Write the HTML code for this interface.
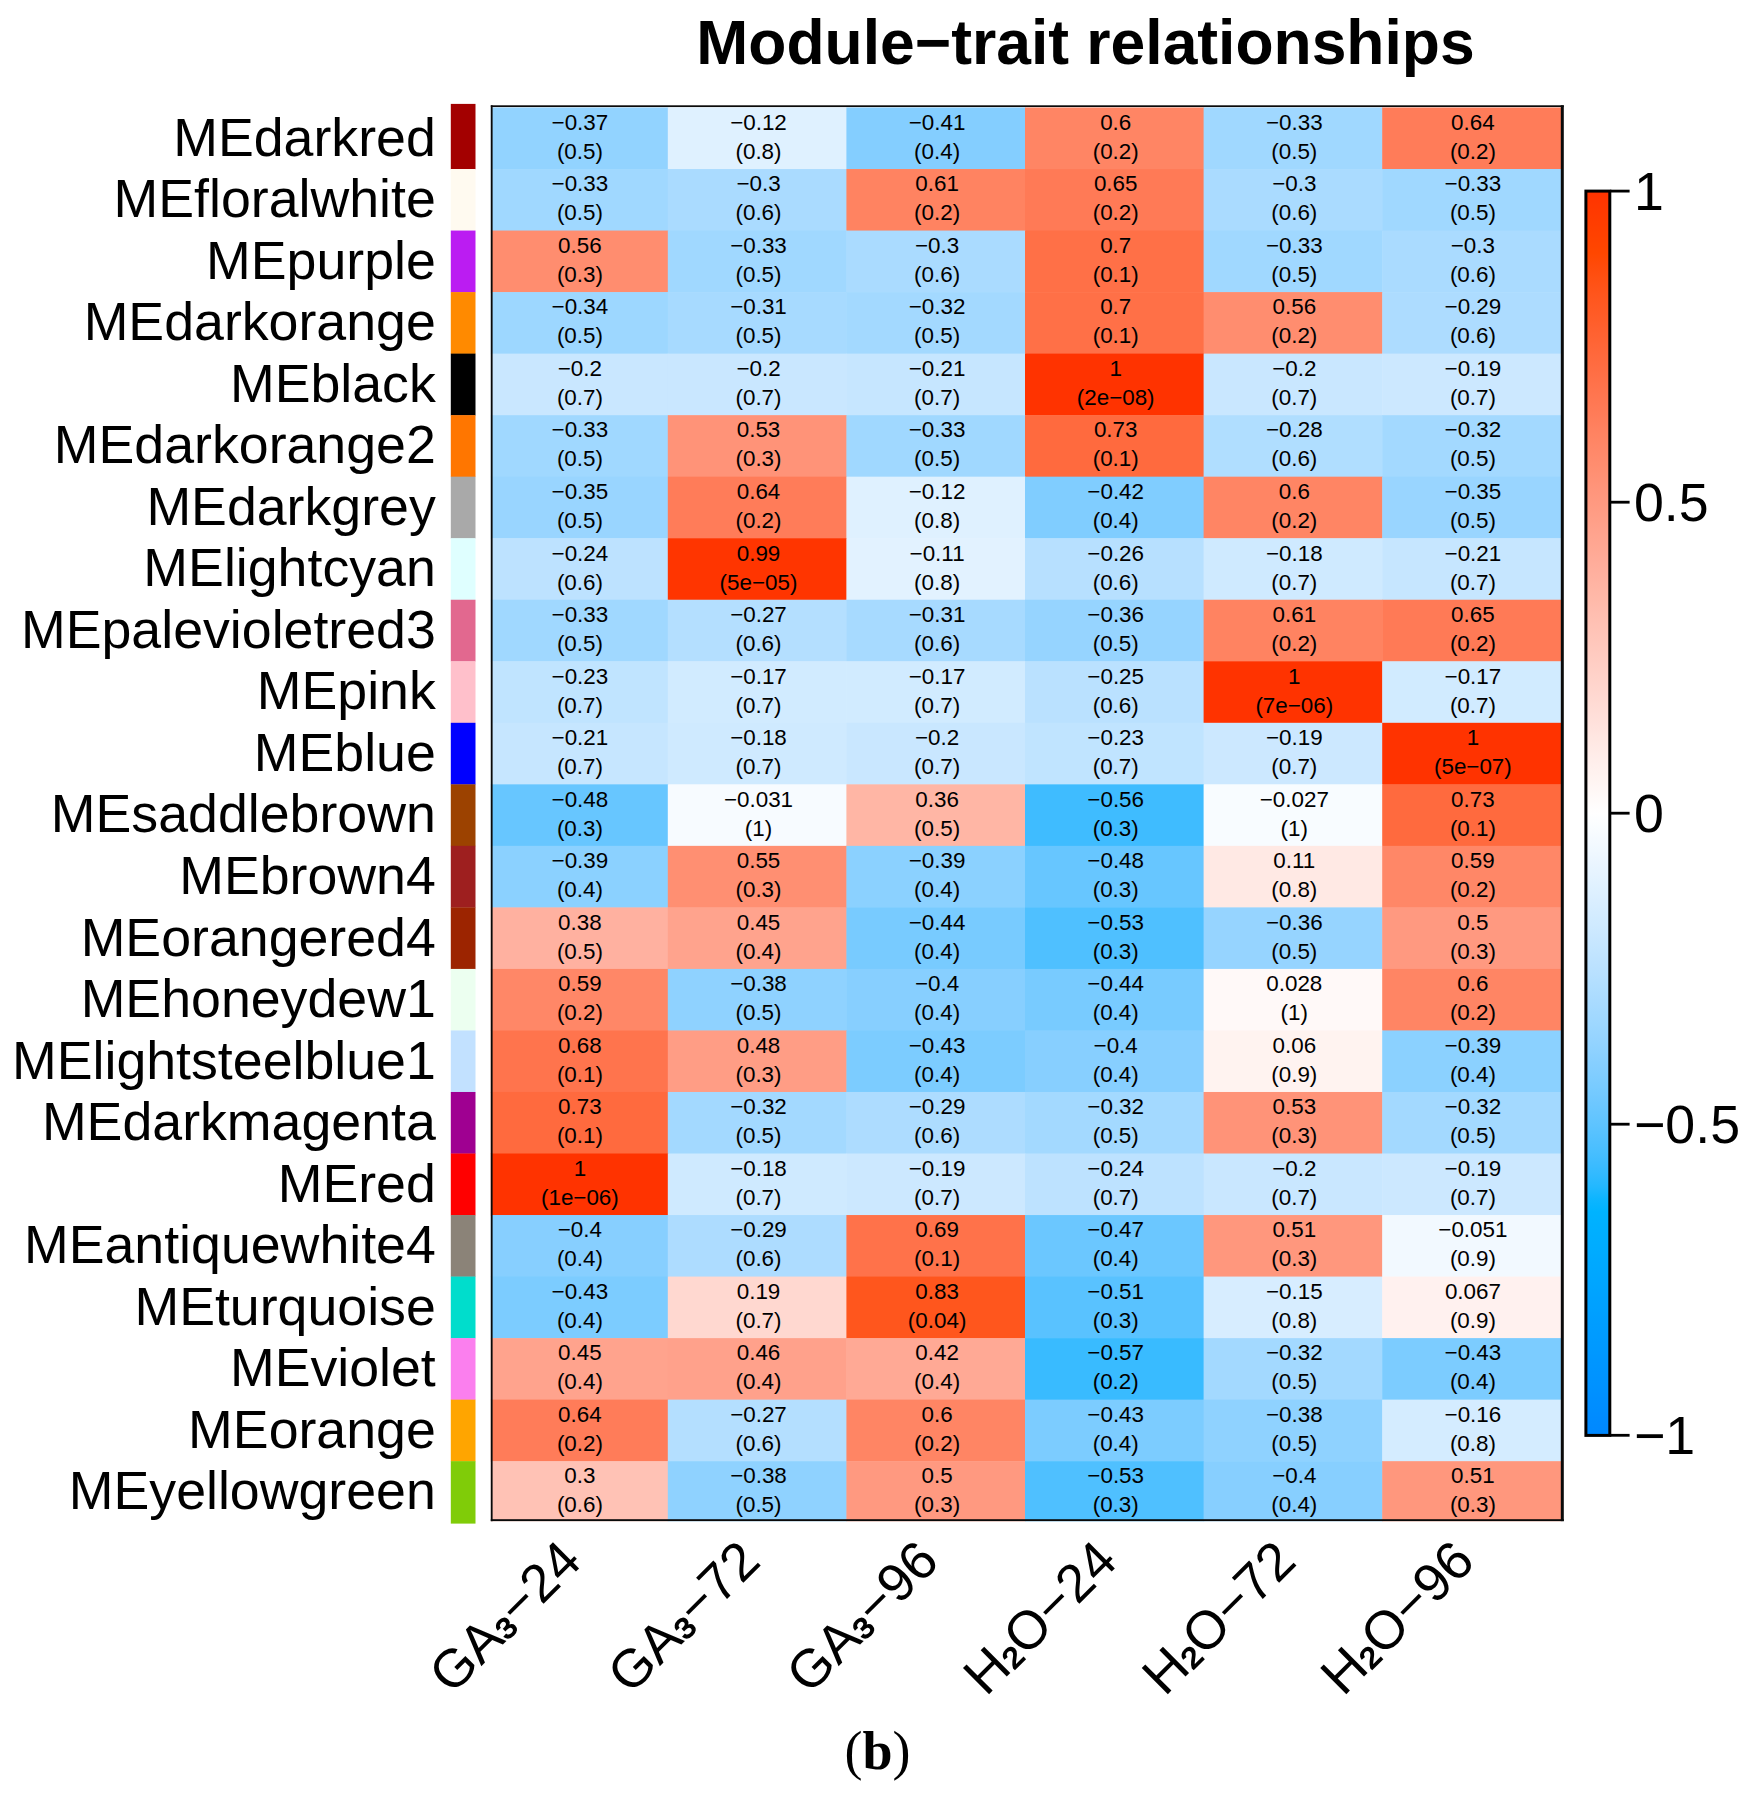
<!DOCTYPE html>
<html lang="en"><head><meta charset="utf-8"><title>Module-trait relationships</title>
<style>
html,body{margin:0;padding:0;background:#fff}
body{width:1759px;height:1797px;overflow:hidden}
svg{display:block}
text{font-family:"Liberation Sans",Arial,Helvetica,sans-serif;fill:#000}
.c{font-size:22.4px;text-anchor:middle}
.r{font-size:53.7px;text-anchor:end}
.x{font-size:53.7px;text-anchor:end}
.l{font-size:53.7px;text-anchor:start}
  .t{font-size:62.4px;font-weight:bold;text-anchor:middle}
.b{font-family:"Liberation Serif","DejaVu Serif",serif;font-size:54px;text-anchor:middle}
</style></head><body>
<svg width="1759" height="1797" viewBox="0 0 1759 1797">
<rect width="1759" height="1797" fill="#fff"/>
<defs><clipPath id="hm"><rect x="490.8" y="105.3" width="1073.0" height="1415.9"/></clipPath>
<linearGradient id="lg" x1="0" y1="0" x2="0" y2="1">
<stop offset="0.000" stop-color="#FF3300"/>
<stop offset="0.010" stop-color="#FF3700"/>
<stop offset="0.020" stop-color="#FF3B00"/>
<stop offset="0.030" stop-color="#FF3F00"/>
<stop offset="0.040" stop-color="#FF4300"/>
<stop offset="0.050" stop-color="#FF4700"/>
<stop offset="0.060" stop-color="#FF4B0A"/>
<stop offset="0.070" stop-color="#FF5012"/>
<stop offset="0.080" stop-color="#FF541A"/>
<stop offset="0.090" stop-color="#FF5821"/>
<stop offset="0.100" stop-color="#FF5C27"/>
<stop offset="0.110" stop-color="#FF602E"/>
<stop offset="0.120" stop-color="#FF6434"/>
<stop offset="0.130" stop-color="#FF683B"/>
<stop offset="0.140" stop-color="#FF6C41"/>
<stop offset="0.150" stop-color="#FF7047"/>
<stop offset="0.160" stop-color="#FF744D"/>
<stop offset="0.170" stop-color="#FF7853"/>
<stop offset="0.180" stop-color="#FF7C59"/>
<stop offset="0.190" stop-color="#FF815F"/>
<stop offset="0.200" stop-color="#FF8564"/>
<stop offset="0.210" stop-color="#FF896A"/>
<stop offset="0.220" stop-color="#FF8D6F"/>
<stop offset="0.230" stop-color="#FF9175"/>
<stop offset="0.240" stop-color="#FF957B"/>
<stop offset="0.250" stop-color="#FF9980"/>
<stop offset="0.260" stop-color="#FF9D85"/>
<stop offset="0.270" stop-color="#FFA18B"/>
<stop offset="0.280" stop-color="#FFA590"/>
<stop offset="0.290" stop-color="#FFA995"/>
<stop offset="0.300" stop-color="#FFAD9B"/>
<stop offset="0.310" stop-color="#FFB1A0"/>
<stop offset="0.320" stop-color="#FFB6A5"/>
<stop offset="0.330" stop-color="#FFBAAA"/>
<stop offset="0.340" stop-color="#FFBEB0"/>
<stop offset="0.350" stop-color="#FFC2B5"/>
<stop offset="0.360" stop-color="#FFC6BA"/>
<stop offset="0.370" stop-color="#FFCABF"/>
<stop offset="0.380" stop-color="#FFCEC4"/>
<stop offset="0.390" stop-color="#FFD2C9"/>
<stop offset="0.400" stop-color="#FFD6CE"/>
<stop offset="0.410" stop-color="#FFDAD3"/>
<stop offset="0.420" stop-color="#FFDED8"/>
<stop offset="0.430" stop-color="#FFE2DD"/>
<stop offset="0.440" stop-color="#FFE7E2"/>
<stop offset="0.450" stop-color="#FFEBE7"/>
<stop offset="0.460" stop-color="#FFEFEC"/>
<stop offset="0.470" stop-color="#FFF3F0"/>
<stop offset="0.480" stop-color="#FFF7F5"/>
<stop offset="0.490" stop-color="#FFFBFA"/>
<stop offset="0.500" stop-color="#FFFFFF"/>
<stop offset="0.510" stop-color="#FAFDFF"/>
<stop offset="0.520" stop-color="#F5FAFF"/>
<stop offset="0.530" stop-color="#F0F8FF"/>
<stop offset="0.540" stop-color="#EAF5FF"/>
<stop offset="0.550" stop-color="#E5F3FF"/>
<stop offset="0.560" stop-color="#DFF1FF"/>
<stop offset="0.570" stop-color="#DAEEFF"/>
<stop offset="0.580" stop-color="#D4ECFF"/>
<stop offset="0.590" stop-color="#CFEAFF"/>
<stop offset="0.600" stop-color="#C9E7FF"/>
<stop offset="0.610" stop-color="#C3E5FF"/>
<stop offset="0.620" stop-color="#BDE2FF"/>
<stop offset="0.630" stop-color="#B7E0FF"/>
<stop offset="0.640" stop-color="#B0DEFF"/>
<stop offset="0.650" stop-color="#AADBFF"/>
<stop offset="0.660" stop-color="#A3D9FF"/>
<stop offset="0.670" stop-color="#9DD7FF"/>
<stop offset="0.680" stop-color="#96D4FF"/>
<stop offset="0.690" stop-color="#8FD2FF"/>
<stop offset="0.700" stop-color="#87CFFF"/>
<stop offset="0.710" stop-color="#80CDFF"/>
<stop offset="0.720" stop-color="#78CBFF"/>
<stop offset="0.730" stop-color="#70C8FF"/>
<stop offset="0.740" stop-color="#67C6FF"/>
<stop offset="0.750" stop-color="#5EC4FF"/>
<stop offset="0.760" stop-color="#54C1FF"/>
<stop offset="0.770" stop-color="#4ABFFF"/>
<stop offset="0.780" stop-color="#3FBCFF"/>
<stop offset="0.790" stop-color="#32BAFF"/>
<stop offset="0.800" stop-color="#23B8FF"/>
<stop offset="0.810" stop-color="#0DB5FF"/>
<stop offset="0.820" stop-color="#00B3FF"/>
<stop offset="0.830" stop-color="#00B0FF"/>
<stop offset="0.840" stop-color="#00AEFF"/>
<stop offset="0.850" stop-color="#00ACFF"/>
<stop offset="0.860" stop-color="#00A9FF"/>
<stop offset="0.870" stop-color="#00A7FF"/>
<stop offset="0.880" stop-color="#00A5FF"/>
<stop offset="0.890" stop-color="#00A2FF"/>
<stop offset="0.900" stop-color="#00A0FF"/>
<stop offset="0.910" stop-color="#009DFF"/>
<stop offset="0.920" stop-color="#009BFF"/>
<stop offset="0.930" stop-color="#0099FF"/>
<stop offset="0.940" stop-color="#0096FF"/>
<stop offset="0.950" stop-color="#0094FF"/>
<stop offset="0.960" stop-color="#0092FF"/>
<stop offset="0.970" stop-color="#008FFF"/>
<stop offset="0.980" stop-color="#008DFF"/>
<stop offset="0.990" stop-color="#008AFF"/>
<stop offset="1.000" stop-color="#0088FF"/>
</linearGradient></defs>
<text class="t" x="1085.5" y="64.3">Module−trait relationships</text>
<g>
<rect x="450.8" y="103.90" width="24.70" height="65.43" fill="#A30000"/>
<rect x="450.8" y="169.03" width="24.70" height="61.83" fill="#FFFAF0"/>
<rect x="450.8" y="230.56" width="24.70" height="61.83" fill="#BB1CF2"/>
<rect x="450.8" y="292.09" width="24.70" height="61.83" fill="#FF8A00"/>
<rect x="450.8" y="353.62" width="24.70" height="61.83" fill="#000000"/>
<rect x="450.8" y="415.15" width="24.70" height="61.83" fill="#FF7600"/>
<rect x="450.8" y="476.68" width="24.70" height="61.83" fill="#A9A9A9"/>
<rect x="450.8" y="538.21" width="24.70" height="61.83" fill="#DFFFFF"/>
<rect x="450.8" y="599.74" width="24.70" height="61.83" fill="#E2688F"/>
<rect x="450.8" y="661.27" width="24.70" height="61.83" fill="#FFC0CB"/>
<rect x="450.8" y="722.80" width="24.70" height="61.83" fill="#0000FF"/>
<rect x="450.8" y="784.33" width="24.70" height="61.83" fill="#9C4200"/>
<rect x="450.8" y="845.86" width="24.70" height="61.83" fill="#9E1F1F"/>
<rect x="450.8" y="907.39" width="24.70" height="61.83" fill="#9C2400"/>
<rect x="450.8" y="968.92" width="24.70" height="61.83" fill="#ECFFF0"/>
<rect x="450.8" y="1030.45" width="24.70" height="61.83" fill="#C2E1FF"/>
<rect x="450.8" y="1091.98" width="24.70" height="61.83" fill="#9F0091"/>
<rect x="450.8" y="1153.51" width="24.70" height="61.83" fill="#FF0000"/>
<rect x="450.8" y="1215.04" width="24.70" height="61.83" fill="#8B8378"/>
<rect x="450.8" y="1276.57" width="24.70" height="61.83" fill="#00DDCC"/>
<rect x="450.8" y="1338.10" width="24.70" height="61.83" fill="#FB7FEE"/>
<rect x="450.8" y="1399.63" width="24.70" height="61.83" fill="#FFA500"/>
<rect x="450.8" y="1461.16" width="24.70" height="62.44" fill="#80CC08"/>
</g>
<g clip-path="url(#hm)">
<rect x="489.20" y="107.50" width="179.10" height="62.03" fill="#92D3FF"/>
<rect x="667.80" y="107.50" width="179.10" height="62.03" fill="#DFF1FF"/>
<rect x="846.40" y="107.50" width="179.10" height="62.03" fill="#84CEFF"/>
<rect x="1025.00" y="107.50" width="179.10" height="62.03" fill="#FF8564"/>
<rect x="1203.60" y="107.50" width="179.10" height="62.03" fill="#A0D8FF"/>
<rect x="1382.20" y="107.50" width="179.10" height="62.03" fill="#FF7C59"/>
<rect x="489.20" y="169.03" width="179.10" height="62.03" fill="#A0D8FF"/>
<rect x="667.80" y="169.03" width="179.10" height="62.03" fill="#AADBFF"/>
<rect x="846.40" y="169.03" width="179.10" height="62.03" fill="#FF8361"/>
<rect x="1025.00" y="169.03" width="179.10" height="62.03" fill="#FF7A56"/>
<rect x="1203.60" y="169.03" width="179.10" height="62.03" fill="#AADBFF"/>
<rect x="1382.20" y="169.03" width="179.10" height="62.03" fill="#A0D8FF"/>
<rect x="489.20" y="230.56" width="179.10" height="62.03" fill="#FF8D6F"/>
<rect x="667.80" y="230.56" width="179.10" height="62.03" fill="#A0D8FF"/>
<rect x="846.40" y="230.56" width="179.10" height="62.03" fill="#AADBFF"/>
<rect x="1025.00" y="230.56" width="179.10" height="62.03" fill="#FF7047"/>
<rect x="1203.60" y="230.56" width="179.10" height="62.03" fill="#A0D8FF"/>
<rect x="1382.20" y="230.56" width="179.10" height="62.03" fill="#AADBFF"/>
<rect x="489.20" y="292.09" width="179.10" height="62.03" fill="#9DD7FF"/>
<rect x="667.80" y="292.09" width="179.10" height="62.03" fill="#A7DAFF"/>
<rect x="846.40" y="292.09" width="179.10" height="62.03" fill="#A3D9FF"/>
<rect x="1025.00" y="292.09" width="179.10" height="62.03" fill="#FF7047"/>
<rect x="1203.60" y="292.09" width="179.10" height="62.03" fill="#FF8D6F"/>
<rect x="1382.20" y="292.09" width="179.10" height="62.03" fill="#ADDCFF"/>
<rect x="489.20" y="353.62" width="179.10" height="62.03" fill="#C9E7FF"/>
<rect x="667.80" y="353.62" width="179.10" height="62.03" fill="#C9E7FF"/>
<rect x="846.40" y="353.62" width="179.10" height="62.03" fill="#C6E6FF"/>
<rect x="1025.00" y="353.62" width="179.10" height="62.03" fill="#FF3300"/>
<rect x="1203.60" y="353.62" width="179.10" height="62.03" fill="#C9E7FF"/>
<rect x="1382.20" y="353.62" width="179.10" height="62.03" fill="#CCE8FF"/>
<rect x="489.20" y="415.15" width="179.10" height="62.03" fill="#A0D8FF"/>
<rect x="667.80" y="415.15" width="179.10" height="62.03" fill="#FF9378"/>
<rect x="846.40" y="415.15" width="179.10" height="62.03" fill="#A0D8FF"/>
<rect x="1025.00" y="415.15" width="179.10" height="62.03" fill="#FF6A3E"/>
<rect x="1203.60" y="415.15" width="179.10" height="62.03" fill="#B0DEFF"/>
<rect x="1382.20" y="415.15" width="179.10" height="62.03" fill="#A3D9FF"/>
<rect x="489.20" y="476.68" width="179.10" height="62.03" fill="#99D5FF"/>
<rect x="667.80" y="476.68" width="179.10" height="62.03" fill="#FF7C59"/>
<rect x="846.40" y="476.68" width="179.10" height="62.03" fill="#DFF1FF"/>
<rect x="1025.00" y="476.68" width="179.10" height="62.03" fill="#80CDFF"/>
<rect x="1203.60" y="476.68" width="179.10" height="62.03" fill="#FF8564"/>
<rect x="1382.20" y="476.68" width="179.10" height="62.03" fill="#99D5FF"/>
<rect x="489.20" y="538.21" width="179.10" height="62.03" fill="#BDE2FF"/>
<rect x="667.80" y="538.21" width="179.10" height="62.03" fill="#FF3500"/>
<rect x="846.40" y="538.21" width="179.10" height="62.03" fill="#E2F2FF"/>
<rect x="1025.00" y="538.21" width="179.10" height="62.03" fill="#B7E0FF"/>
<rect x="1203.60" y="538.21" width="179.10" height="62.03" fill="#CFEAFF"/>
<rect x="1382.20" y="538.21" width="179.10" height="62.03" fill="#C6E6FF"/>
<rect x="489.20" y="599.74" width="179.10" height="62.03" fill="#A0D8FF"/>
<rect x="667.80" y="599.74" width="179.10" height="62.03" fill="#B4DFFF"/>
<rect x="846.40" y="599.74" width="179.10" height="62.03" fill="#A7DAFF"/>
<rect x="1025.00" y="599.74" width="179.10" height="62.03" fill="#96D4FF"/>
<rect x="1203.60" y="599.74" width="179.10" height="62.03" fill="#FF8361"/>
<rect x="1382.20" y="599.74" width="179.10" height="62.03" fill="#FF7A56"/>
<rect x="489.20" y="661.27" width="179.10" height="62.03" fill="#C0E4FF"/>
<rect x="667.80" y="661.27" width="179.10" height="62.03" fill="#D1EBFF"/>
<rect x="846.40" y="661.27" width="179.10" height="62.03" fill="#D1EBFF"/>
<rect x="1025.00" y="661.27" width="179.10" height="62.03" fill="#BAE1FF"/>
<rect x="1203.60" y="661.27" width="179.10" height="62.03" fill="#FF3300"/>
<rect x="1382.20" y="661.27" width="179.10" height="62.03" fill="#D1EBFF"/>
<rect x="489.20" y="722.80" width="179.10" height="62.03" fill="#C6E6FF"/>
<rect x="667.80" y="722.80" width="179.10" height="62.03" fill="#CFEAFF"/>
<rect x="846.40" y="722.80" width="179.10" height="62.03" fill="#C9E7FF"/>
<rect x="1025.00" y="722.80" width="179.10" height="62.03" fill="#C0E4FF"/>
<rect x="1203.60" y="722.80" width="179.10" height="62.03" fill="#CCE8FF"/>
<rect x="1382.20" y="722.80" width="179.10" height="62.03" fill="#FF3300"/>
<rect x="489.20" y="784.33" width="179.10" height="62.03" fill="#67C6FF"/>
<rect x="667.80" y="784.33" width="179.10" height="62.03" fill="#F7FBFF"/>
<rect x="846.40" y="784.33" width="179.10" height="62.03" fill="#FFB6A5"/>
<rect x="1025.00" y="784.33" width="179.10" height="62.03" fill="#3FBCFF"/>
<rect x="1203.60" y="784.33" width="179.10" height="62.03" fill="#F8FCFF"/>
<rect x="1382.20" y="784.33" width="179.10" height="62.03" fill="#FF6A3E"/>
<rect x="489.20" y="845.86" width="179.10" height="62.03" fill="#8BD1FF"/>
<rect x="667.80" y="845.86" width="179.10" height="62.03" fill="#FF8F72"/>
<rect x="846.40" y="845.86" width="179.10" height="62.03" fill="#8BD1FF"/>
<rect x="1025.00" y="845.86" width="179.10" height="62.03" fill="#67C6FF"/>
<rect x="1203.60" y="845.86" width="179.10" height="62.03" fill="#FFE9E4"/>
<rect x="1382.20" y="845.86" width="179.10" height="62.03" fill="#FF8767"/>
<rect x="489.20" y="907.39" width="179.10" height="62.03" fill="#FFB1A0"/>
<rect x="667.80" y="907.39" width="179.10" height="62.03" fill="#FFA38D"/>
<rect x="846.40" y="907.39" width="179.10" height="62.03" fill="#78CBFF"/>
<rect x="1025.00" y="907.39" width="179.10" height="62.03" fill="#4FC0FF"/>
<rect x="1203.60" y="907.39" width="179.10" height="62.03" fill="#96D4FF"/>
<rect x="1382.20" y="907.39" width="179.10" height="62.03" fill="#FF9980"/>
<rect x="489.20" y="968.92" width="179.10" height="62.03" fill="#FF8767"/>
<rect x="667.80" y="968.92" width="179.10" height="62.03" fill="#8FD2FF"/>
<rect x="846.40" y="968.92" width="179.10" height="62.03" fill="#87CFFF"/>
<rect x="1025.00" y="968.92" width="179.10" height="62.03" fill="#78CBFF"/>
<rect x="1203.60" y="968.92" width="179.10" height="62.03" fill="#FFF9F8"/>
<rect x="1382.20" y="968.92" width="179.10" height="62.03" fill="#FF8564"/>
<rect x="489.20" y="1030.45" width="179.10" height="62.03" fill="#FF744D"/>
<rect x="667.80" y="1030.45" width="179.10" height="62.03" fill="#FF9D85"/>
<rect x="846.40" y="1030.45" width="179.10" height="62.03" fill="#7CCCFF"/>
<rect x="1025.00" y="1030.45" width="179.10" height="62.03" fill="#87CFFF"/>
<rect x="1203.60" y="1030.45" width="179.10" height="62.03" fill="#FFF3F0"/>
<rect x="1382.20" y="1030.45" width="179.10" height="62.03" fill="#8BD1FF"/>
<rect x="489.20" y="1091.98" width="179.10" height="62.03" fill="#FF6A3E"/>
<rect x="667.80" y="1091.98" width="179.10" height="62.03" fill="#A3D9FF"/>
<rect x="846.40" y="1091.98" width="179.10" height="62.03" fill="#ADDCFF"/>
<rect x="1025.00" y="1091.98" width="179.10" height="62.03" fill="#A3D9FF"/>
<rect x="1203.60" y="1091.98" width="179.10" height="62.03" fill="#FF9378"/>
<rect x="1382.20" y="1091.98" width="179.10" height="62.03" fill="#A3D9FF"/>
<rect x="489.20" y="1153.51" width="179.10" height="62.03" fill="#FF3300"/>
<rect x="667.80" y="1153.51" width="179.10" height="62.03" fill="#CFEAFF"/>
<rect x="846.40" y="1153.51" width="179.10" height="62.03" fill="#CCE8FF"/>
<rect x="1025.00" y="1153.51" width="179.10" height="62.03" fill="#BDE2FF"/>
<rect x="1203.60" y="1153.51" width="179.10" height="62.03" fill="#C9E7FF"/>
<rect x="1382.20" y="1153.51" width="179.10" height="62.03" fill="#CCE8FF"/>
<rect x="489.20" y="1215.04" width="179.10" height="62.03" fill="#87CFFF"/>
<rect x="667.80" y="1215.04" width="179.10" height="62.03" fill="#ADDCFF"/>
<rect x="846.40" y="1215.04" width="179.10" height="62.03" fill="#FF724A"/>
<rect x="1025.00" y="1215.04" width="179.10" height="62.03" fill="#6BC7FF"/>
<rect x="1203.60" y="1215.04" width="179.10" height="62.03" fill="#FF977D"/>
<rect x="1382.20" y="1215.04" width="179.10" height="62.03" fill="#F2F9FF"/>
<rect x="489.20" y="1276.57" width="179.10" height="62.03" fill="#7CCCFF"/>
<rect x="667.80" y="1276.57" width="179.10" height="62.03" fill="#FFD8D0"/>
<rect x="846.40" y="1276.57" width="179.10" height="62.03" fill="#FF561D"/>
<rect x="1025.00" y="1276.57" width="179.10" height="62.03" fill="#59C2FF"/>
<rect x="1203.60" y="1276.57" width="179.10" height="62.03" fill="#D7EDFF"/>
<rect x="1382.20" y="1276.57" width="179.10" height="62.03" fill="#FFF1EF"/>
<rect x="489.20" y="1338.10" width="179.10" height="62.03" fill="#FFA38D"/>
<rect x="667.80" y="1338.10" width="179.10" height="62.03" fill="#FFA18B"/>
<rect x="846.40" y="1338.10" width="179.10" height="62.03" fill="#FFA995"/>
<rect x="1025.00" y="1338.10" width="179.10" height="62.03" fill="#39BBFF"/>
<rect x="1203.60" y="1338.10" width="179.10" height="62.03" fill="#A3D9FF"/>
<rect x="1382.20" y="1338.10" width="179.10" height="62.03" fill="#7CCCFF"/>
<rect x="489.20" y="1399.63" width="179.10" height="62.03" fill="#FF7C59"/>
<rect x="667.80" y="1399.63" width="179.10" height="62.03" fill="#B4DFFF"/>
<rect x="846.40" y="1399.63" width="179.10" height="62.03" fill="#FF8564"/>
<rect x="1025.00" y="1399.63" width="179.10" height="62.03" fill="#7CCCFF"/>
<rect x="1203.60" y="1399.63" width="179.10" height="62.03" fill="#8FD2FF"/>
<rect x="1382.20" y="1399.63" width="179.10" height="62.03" fill="#D4ECFF"/>
<rect x="489.20" y="1461.16" width="179.10" height="62.03" fill="#FFC2B5"/>
<rect x="667.80" y="1461.16" width="179.10" height="62.03" fill="#8FD2FF"/>
<rect x="846.40" y="1461.16" width="179.10" height="62.03" fill="#FF9980"/>
<rect x="1025.00" y="1461.16" width="179.10" height="62.03" fill="#4FC0FF"/>
<rect x="1203.60" y="1461.16" width="179.10" height="62.03" fill="#87CFFF"/>
<rect x="1382.20" y="1461.16" width="179.10" height="62.03" fill="#FF977D"/>
</g>
<g fill="#0a0a0a"><rect x="490.8" y="105.3" width="1.8" height="1415.9"/><rect x="490.8" y="105.3" width="1073" height="1.75"/><rect x="1560.8" y="105.3" width="3" height="1415.9"/><rect x="490.8" y="1519.2" width="1073" height="1.9"/></g>
<g class="c">
<text x="579.9" y="129.8">−0.37</text><text x="579.9" y="158.8">(0.5)</text>
<text x="758.5" y="129.8">−0.12</text><text x="758.5" y="158.8">(0.8)</text>
<text x="937.1" y="129.8">−0.41</text><text x="937.1" y="158.8">(0.4)</text>
<text x="1115.7" y="129.8">0.6</text><text x="1115.7" y="158.8">(0.2)</text>
<text x="1294.3" y="129.8">−0.33</text><text x="1294.3" y="158.8">(0.5)</text>
<text x="1472.9" y="129.8">0.64</text><text x="1472.9" y="158.8">(0.2)</text>
<text x="579.9" y="191.3">−0.33</text><text x="579.9" y="220.3">(0.5)</text>
<text x="758.5" y="191.3">−0.3</text><text x="758.5" y="220.3">(0.6)</text>
<text x="937.1" y="191.3">0.61</text><text x="937.1" y="220.3">(0.2)</text>
<text x="1115.7" y="191.3">0.65</text><text x="1115.7" y="220.3">(0.2)</text>
<text x="1294.3" y="191.3">−0.3</text><text x="1294.3" y="220.3">(0.6)</text>
<text x="1472.9" y="191.3">−0.33</text><text x="1472.9" y="220.3">(0.5)</text>
<text x="579.9" y="252.8">0.56</text><text x="579.9" y="281.8">(0.3)</text>
<text x="758.5" y="252.8">−0.33</text><text x="758.5" y="281.8">(0.5)</text>
<text x="937.1" y="252.8">−0.3</text><text x="937.1" y="281.8">(0.6)</text>
<text x="1115.7" y="252.8">0.7</text><text x="1115.7" y="281.8">(0.1)</text>
<text x="1294.3" y="252.8">−0.33</text><text x="1294.3" y="281.8">(0.5)</text>
<text x="1472.9" y="252.8">−0.3</text><text x="1472.9" y="281.8">(0.6)</text>
<text x="579.9" y="314.4">−0.34</text><text x="579.9" y="343.4">(0.5)</text>
<text x="758.5" y="314.4">−0.31</text><text x="758.5" y="343.4">(0.5)</text>
<text x="937.1" y="314.4">−0.32</text><text x="937.1" y="343.4">(0.5)</text>
<text x="1115.7" y="314.4">0.7</text><text x="1115.7" y="343.4">(0.1)</text>
<text x="1294.3" y="314.4">0.56</text><text x="1294.3" y="343.4">(0.2)</text>
<text x="1472.9" y="314.4">−0.29</text><text x="1472.9" y="343.4">(0.6)</text>
<text x="579.9" y="375.9">−0.2</text><text x="579.9" y="404.9">(0.7)</text>
<text x="758.5" y="375.9">−0.2</text><text x="758.5" y="404.9">(0.7)</text>
<text x="937.1" y="375.9">−0.21</text><text x="937.1" y="404.9">(0.7)</text>
<text x="1115.7" y="375.9">1</text><text x="1115.7" y="404.9">(2e−08)</text>
<text x="1294.3" y="375.9">−0.2</text><text x="1294.3" y="404.9">(0.7)</text>
<text x="1472.9" y="375.9">−0.19</text><text x="1472.9" y="404.9">(0.7)</text>
<text x="579.9" y="437.4">−0.33</text><text x="579.9" y="466.4">(0.5)</text>
<text x="758.5" y="437.4">0.53</text><text x="758.5" y="466.4">(0.3)</text>
<text x="937.1" y="437.4">−0.33</text><text x="937.1" y="466.4">(0.5)</text>
<text x="1115.7" y="437.4">0.73</text><text x="1115.7" y="466.4">(0.1)</text>
<text x="1294.3" y="437.4">−0.28</text><text x="1294.3" y="466.4">(0.6)</text>
<text x="1472.9" y="437.4">−0.32</text><text x="1472.9" y="466.4">(0.5)</text>
<text x="579.9" y="498.9">−0.35</text><text x="579.9" y="527.9">(0.5)</text>
<text x="758.5" y="498.9">0.64</text><text x="758.5" y="527.9">(0.2)</text>
<text x="937.1" y="498.9">−0.12</text><text x="937.1" y="527.9">(0.8)</text>
<text x="1115.7" y="498.9">−0.42</text><text x="1115.7" y="527.9">(0.4)</text>
<text x="1294.3" y="498.9">0.6</text><text x="1294.3" y="527.9">(0.2)</text>
<text x="1472.9" y="498.9">−0.35</text><text x="1472.9" y="527.9">(0.5)</text>
<text x="579.9" y="560.5">−0.24</text><text x="579.9" y="589.5">(0.6)</text>
<text x="758.5" y="560.5">0.99</text><text x="758.5" y="589.5">(5e−05)</text>
<text x="937.1" y="560.5">−0.11</text><text x="937.1" y="589.5">(0.8)</text>
<text x="1115.7" y="560.5">−0.26</text><text x="1115.7" y="589.5">(0.6)</text>
<text x="1294.3" y="560.5">−0.18</text><text x="1294.3" y="589.5">(0.7)</text>
<text x="1472.9" y="560.5">−0.21</text><text x="1472.9" y="589.5">(0.7)</text>
<text x="579.9" y="622.0">−0.33</text><text x="579.9" y="651.0">(0.5)</text>
<text x="758.5" y="622.0">−0.27</text><text x="758.5" y="651.0">(0.6)</text>
<text x="937.1" y="622.0">−0.31</text><text x="937.1" y="651.0">(0.6)</text>
<text x="1115.7" y="622.0">−0.36</text><text x="1115.7" y="651.0">(0.5)</text>
<text x="1294.3" y="622.0">0.61</text><text x="1294.3" y="651.0">(0.2)</text>
<text x="1472.9" y="622.0">0.65</text><text x="1472.9" y="651.0">(0.2)</text>
<text x="579.9" y="683.5">−0.23</text><text x="579.9" y="712.5">(0.7)</text>
<text x="758.5" y="683.5">−0.17</text><text x="758.5" y="712.5">(0.7)</text>
<text x="937.1" y="683.5">−0.17</text><text x="937.1" y="712.5">(0.7)</text>
<text x="1115.7" y="683.5">−0.25</text><text x="1115.7" y="712.5">(0.6)</text>
<text x="1294.3" y="683.5">1</text><text x="1294.3" y="712.5">(7e−06)</text>
<text x="1472.9" y="683.5">−0.17</text><text x="1472.9" y="712.5">(0.7)</text>
<text x="579.9" y="745.1">−0.21</text><text x="579.9" y="774.1">(0.7)</text>
<text x="758.5" y="745.1">−0.18</text><text x="758.5" y="774.1">(0.7)</text>
<text x="937.1" y="745.1">−0.2</text><text x="937.1" y="774.1">(0.7)</text>
<text x="1115.7" y="745.1">−0.23</text><text x="1115.7" y="774.1">(0.7)</text>
<text x="1294.3" y="745.1">−0.19</text><text x="1294.3" y="774.1">(0.7)</text>
<text x="1472.9" y="745.1">1</text><text x="1472.9" y="774.1">(5e−07)</text>
<text x="579.9" y="806.6">−0.48</text><text x="579.9" y="835.6">(0.3)</text>
<text x="758.5" y="806.6">−0.031</text><text x="758.5" y="835.6">(1)</text>
<text x="937.1" y="806.6">0.36</text><text x="937.1" y="835.6">(0.5)</text>
<text x="1115.7" y="806.6">−0.56</text><text x="1115.7" y="835.6">(0.3)</text>
<text x="1294.3" y="806.6">−0.027</text><text x="1294.3" y="835.6">(1)</text>
<text x="1472.9" y="806.6">0.73</text><text x="1472.9" y="835.6">(0.1)</text>
<text x="579.9" y="868.1">−0.39</text><text x="579.9" y="897.1">(0.4)</text>
<text x="758.5" y="868.1">0.55</text><text x="758.5" y="897.1">(0.3)</text>
<text x="937.1" y="868.1">−0.39</text><text x="937.1" y="897.1">(0.4)</text>
<text x="1115.7" y="868.1">−0.48</text><text x="1115.7" y="897.1">(0.3)</text>
<text x="1294.3" y="868.1">0.11</text><text x="1294.3" y="897.1">(0.8)</text>
<text x="1472.9" y="868.1">0.59</text><text x="1472.9" y="897.1">(0.2)</text>
<text x="579.9" y="929.7">0.38</text><text x="579.9" y="958.7">(0.5)</text>
<text x="758.5" y="929.7">0.45</text><text x="758.5" y="958.7">(0.4)</text>
<text x="937.1" y="929.7">−0.44</text><text x="937.1" y="958.7">(0.4)</text>
<text x="1115.7" y="929.7">−0.53</text><text x="1115.7" y="958.7">(0.3)</text>
<text x="1294.3" y="929.7">−0.36</text><text x="1294.3" y="958.7">(0.5)</text>
<text x="1472.9" y="929.7">0.5</text><text x="1472.9" y="958.7">(0.3)</text>
<text x="579.9" y="991.2">0.59</text><text x="579.9" y="1020.2">(0.2)</text>
<text x="758.5" y="991.2">−0.38</text><text x="758.5" y="1020.2">(0.5)</text>
<text x="937.1" y="991.2">−0.4</text><text x="937.1" y="1020.2">(0.4)</text>
<text x="1115.7" y="991.2">−0.44</text><text x="1115.7" y="1020.2">(0.4)</text>
<text x="1294.3" y="991.2">0.028</text><text x="1294.3" y="1020.2">(1)</text>
<text x="1472.9" y="991.2">0.6</text><text x="1472.9" y="1020.2">(0.2)</text>
<text x="579.9" y="1052.7">0.68</text><text x="579.9" y="1081.7">(0.1)</text>
<text x="758.5" y="1052.7">0.48</text><text x="758.5" y="1081.7">(0.3)</text>
<text x="937.1" y="1052.7">−0.43</text><text x="937.1" y="1081.7">(0.4)</text>
<text x="1115.7" y="1052.7">−0.4</text><text x="1115.7" y="1081.7">(0.4)</text>
<text x="1294.3" y="1052.7">0.06</text><text x="1294.3" y="1081.7">(0.9)</text>
<text x="1472.9" y="1052.7">−0.39</text><text x="1472.9" y="1081.7">(0.4)</text>
<text x="579.9" y="1114.2">0.73</text><text x="579.9" y="1143.2">(0.1)</text>
<text x="758.5" y="1114.2">−0.32</text><text x="758.5" y="1143.2">(0.5)</text>
<text x="937.1" y="1114.2">−0.29</text><text x="937.1" y="1143.2">(0.6)</text>
<text x="1115.7" y="1114.2">−0.32</text><text x="1115.7" y="1143.2">(0.5)</text>
<text x="1294.3" y="1114.2">0.53</text><text x="1294.3" y="1143.2">(0.3)</text>
<text x="1472.9" y="1114.2">−0.32</text><text x="1472.9" y="1143.2">(0.5)</text>
<text x="579.9" y="1175.8">1</text><text x="579.9" y="1204.8">(1e−06)</text>
<text x="758.5" y="1175.8">−0.18</text><text x="758.5" y="1204.8">(0.7)</text>
<text x="937.1" y="1175.8">−0.19</text><text x="937.1" y="1204.8">(0.7)</text>
<text x="1115.7" y="1175.8">−0.24</text><text x="1115.7" y="1204.8">(0.7)</text>
<text x="1294.3" y="1175.8">−0.2</text><text x="1294.3" y="1204.8">(0.7)</text>
<text x="1472.9" y="1175.8">−0.19</text><text x="1472.9" y="1204.8">(0.7)</text>
<text x="579.9" y="1237.3">−0.4</text><text x="579.9" y="1266.3">(0.4)</text>
<text x="758.5" y="1237.3">−0.29</text><text x="758.5" y="1266.3">(0.6)</text>
<text x="937.1" y="1237.3">0.69</text><text x="937.1" y="1266.3">(0.1)</text>
<text x="1115.7" y="1237.3">−0.47</text><text x="1115.7" y="1266.3">(0.4)</text>
<text x="1294.3" y="1237.3">0.51</text><text x="1294.3" y="1266.3">(0.3)</text>
<text x="1472.9" y="1237.3">−0.051</text><text x="1472.9" y="1266.3">(0.9)</text>
<text x="579.9" y="1298.8">−0.43</text><text x="579.9" y="1327.8">(0.4)</text>
<text x="758.5" y="1298.8">0.19</text><text x="758.5" y="1327.8">(0.7)</text>
<text x="937.1" y="1298.8">0.83</text><text x="937.1" y="1327.8">(0.04)</text>
<text x="1115.7" y="1298.8">−0.51</text><text x="1115.7" y="1327.8">(0.3)</text>
<text x="1294.3" y="1298.8">−0.15</text><text x="1294.3" y="1327.8">(0.8)</text>
<text x="1472.9" y="1298.8">0.067</text><text x="1472.9" y="1327.8">(0.9)</text>
<text x="579.9" y="1360.4">0.45</text><text x="579.9" y="1389.4">(0.4)</text>
<text x="758.5" y="1360.4">0.46</text><text x="758.5" y="1389.4">(0.4)</text>
<text x="937.1" y="1360.4">0.42</text><text x="937.1" y="1389.4">(0.4)</text>
<text x="1115.7" y="1360.4">−0.57</text><text x="1115.7" y="1389.4">(0.2)</text>
<text x="1294.3" y="1360.4">−0.32</text><text x="1294.3" y="1389.4">(0.5)</text>
<text x="1472.9" y="1360.4">−0.43</text><text x="1472.9" y="1389.4">(0.4)</text>
<text x="579.9" y="1421.9">0.64</text><text x="579.9" y="1450.9">(0.2)</text>
<text x="758.5" y="1421.9">−0.27</text><text x="758.5" y="1450.9">(0.6)</text>
<text x="937.1" y="1421.9">0.6</text><text x="937.1" y="1450.9">(0.2)</text>
<text x="1115.7" y="1421.9">−0.43</text><text x="1115.7" y="1450.9">(0.4)</text>
<text x="1294.3" y="1421.9">−0.38</text><text x="1294.3" y="1450.9">(0.5)</text>
<text x="1472.9" y="1421.9">−0.16</text><text x="1472.9" y="1450.9">(0.8)</text>
<text x="579.9" y="1483.4">0.3</text><text x="579.9" y="1512.4">(0.6)</text>
<text x="758.5" y="1483.4">−0.38</text><text x="758.5" y="1512.4">(0.5)</text>
<text x="937.1" y="1483.4">0.5</text><text x="937.1" y="1512.4">(0.3)</text>
<text x="1115.7" y="1483.4">−0.53</text><text x="1115.7" y="1512.4">(0.3)</text>
<text x="1294.3" y="1483.4">−0.4</text><text x="1294.3" y="1512.4">(0.4)</text>
<text x="1472.9" y="1483.4">0.51</text><text x="1472.9" y="1512.4">(0.3)</text>
</g>
<g class="r">
<text x="435.8" y="155.6">MEdarkred</text>
<text x="435.8" y="217.1">MEfloralwhite</text>
<text x="435.8" y="278.6">MEpurple</text>
<text x="435.8" y="340.2">MEdarkorange</text>
<text x="435.8" y="401.7">MEblack</text>
<text x="435.8" y="463.2">MEdarkorange2</text>
<text x="435.8" y="524.7">MEdarkgrey</text>
<text x="435.8" y="586.3">MElightcyan</text>
<text x="435.8" y="647.8">MEpalevioletred3</text>
<text x="435.8" y="709.3">MEpink</text>
<text x="435.8" y="770.9">MEblue</text>
<text x="435.8" y="832.4">MEsaddlebrown</text>
<text x="435.8" y="893.9">MEbrown4</text>
<text x="435.8" y="955.5">MEorangered4</text>
<text x="435.8" y="1017.0">MEhoneydew1</text>
<text x="435.8" y="1078.5">MElightsteelblue1</text>
<text x="435.8" y="1140.0">MEdarkmagenta</text>
<text x="435.8" y="1201.6">MEred</text>
<text x="435.8" y="1263.1">MEantiquewhite4</text>
<text x="435.8" y="1324.6">MEturquoise</text>
<text x="435.8" y="1386.2">MEviolet</text>
<text x="435.8" y="1447.7">MEorange</text>
<text x="435.8" y="1509.2">MEyellowgreen</text>
</g>
<g class="x">
<text transform="translate(583.9,1563.6) rotate(-45)">GA<tspan font-size="49.4" dx="-0.9" dy="-3.6" stroke="#000" stroke-width="1.5">₃</tspan><tspan dx="-0.9" dy="3.6">−24</tspan></text>
<text transform="translate(762.5,1563.6) rotate(-45)">GA<tspan font-size="49.4" dx="-0.9" dy="-3.6" stroke="#000" stroke-width="1.5">₃</tspan><tspan dx="-0.9" dy="3.6">−72</tspan></text>
<text transform="translate(941.1,1563.6) rotate(-45)">GA<tspan font-size="49.4" dx="-0.9" dy="-3.6" stroke="#000" stroke-width="1.5">₃</tspan><tspan dx="-0.9" dy="3.6">−96</tspan></text>
<text transform="translate(1119.7,1563.6) rotate(-45)">H<tspan font-size="49.4" dx="-0.9" dy="-3.6" stroke="#000" stroke-width="1.5">₂</tspan><tspan dx="-0.9" dy="3.6">O−24</tspan></text>
<text transform="translate(1298.3,1563.6) rotate(-45)">H<tspan font-size="49.4" dx="-0.9" dy="-3.6" stroke="#000" stroke-width="1.5">₂</tspan><tspan dx="-0.9" dy="3.6">O−72</tspan></text>
<text transform="translate(1476.9,1563.6) rotate(-45)">H<tspan font-size="49.4" dx="-0.9" dy="-3.6" stroke="#000" stroke-width="1.5">₂</tspan><tspan dx="-0.9" dy="3.6">O−96</tspan></text>
</g>
<rect x="1585.9" y="191.1" width="23.899999999999864" height="1244.3000000000002" fill="url(#lg)" stroke="#000" stroke-width="3"/>
<g class="l">
<rect x="1610.3" y="189.7" width="19.3" height="2.8" fill="#000"/>
<text x="1634" y="209.6">1</text>
<rect x="1610.3" y="500.8" width="19.3" height="2.8" fill="#000"/>
<text x="1634" y="520.6">0.5</text>
<rect x="1610.3" y="811.8" width="19.3" height="2.8" fill="#000"/>
<text x="1634" y="831.7">0</text>
<rect x="1610.3" y="1122.8" width="19.3" height="2.8" fill="#000"/>
<text x="1634" y="1142.8">−0.5</text>
<rect x="1610.3" y="1433.9" width="19.3" height="2.8" fill="#000"/>
<text x="1634" y="1453.8">−1</text>
</g>
<text class="b" x="877.5" y="1769">(<tspan font-weight="bold">b</tspan>)</text>
</svg></body></html>
